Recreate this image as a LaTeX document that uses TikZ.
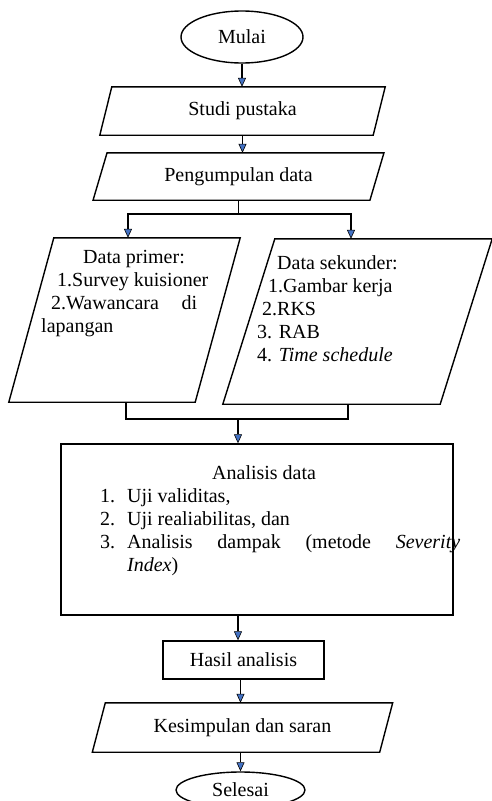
\documentclass[tikz,border=0pt]{standalone}
\usepackage{fontspec}
\setmainfont{Liberation Serif}
\usetikzlibrary{shapes.geometric,arrows.meta}
\definecolor{arrowblue}{RGB}{68,114,196}
\newcommand\drawpara[2]{\draw[boxline] ([xshift=#2]#1.north west) -- ([xshift=#2]#1.north east) -- ([xshift=-#2]#1.south east) -- ([xshift=-#2]#1.south west) -- cycle;}
\begin{document}
\begin{tikzpicture}[x=1pt,y=-1pt,
 txt/.style={font=\fontsize{20}{23}\selectfont, text=black},
 shapebox/.style={draw=none, rectangle, inner sep=0pt, txt},
 boxline/.style={line width=1.4pt, line join=miter},
 rectbox/.style={draw, line width=1.4pt, rectangle, inner sep=0pt, txt},
 term/.style={draw, ellipse, line width=1.4pt, inner sep=0pt, txt},
 ln/.style={line width=1.8pt},
 arr/.style={line width=1.8pt, -{Triangle[width=8pt,length=9pt,fill=arrowblue,line width=0.6pt]}},
 blocktxt/.style={txt, anchor=base west, inner sep=0pt},
]
\useasboundingbox (0,0) rectangle (492,801);
\fill[white] (0,0) rectangle (492,801);

% terminals and process boxes
\node[term, minimum width=122pt, minimum height=52pt] (mulai) at (242,37) {Mulai};
\node[shapebox, minimum width=273pt, minimum height=48pt] (studi) at (242.5,111) {Studi pustaka};
\drawpara{studi}{6pt}
\node[shapebox, minimum width=276.5pt, minimum height=47pt] (peng) at (238.5,176.5) {Pengumpulan data};
\drawpara{peng}{7pt}

\node[shapebox, minimum width=186pt, minimum height=164pt] (primer) at (124.5,320) {};
\drawpara{primer}{22.5pt}
\node[blocktxt] (primertxt) at (41,263) {\parbox[t]{200pt}{\raggedright
\hspace*{42pt}Data primer:\\
\hspace*{16pt}1.Survey kuisioner\\
\hspace*{10pt}\makebox[146pt][s]{2.Wawancara di}\\
lapangan}};

\node[shapebox, minimum width=217pt, minimum height=165pt] (sekunder) at (357.5,321.5) {};
\drawpara{sekunder}{26pt}
\node[blocktxt] (sekundertxt) at (257,269) {\parbox[t]{200pt}{\raggedright
\hspace*{20pt}Data sekunder:\\
\hspace*{11pt}1.Gambar kerja\\
\hspace*{5pt}2.RKS\\
3. RAB\\
4. \textit{Time schedule}}};

\node[rectbox, minimum width=392pt, minimum height=171pt] (analisis) at (257,529.5) {};
\node[blocktxt] (analisistxt) at (100,479) {\parbox[t]{370pt}{\raggedright
\hspace*{112pt}Analisis data\\
\makebox[27pt][l]{1.}Uji validitas,\\
\makebox[27pt][l]{2.}Uji realiabilitas, dan\\
\makebox[27pt][l]{3.}\makebox[333pt][s]{Analisis dampak (metode \textit{Severity}}\\
\hspace*{27pt}\textit{Index})}};

\node[rectbox, minimum width=161pt, minimum height=38pt] (hasil) at (243.5,660) {Hasil analisis};
\node[shapebox, minimum width=287pt, minimum height=49pt] (kesimpulan) at (242.5,727.5) {Kesimpulan dan saran};
\drawpara{kesimpulan}{6.5pt}
\node[term, minimum width=129pt, minimum height=36pt] (selesai) at (240.5,790) {Selesai};

% connectors
\draw[arr] (mulai.south) -- (mulai.south |- studi.north);
\draw[arr] (studi.south) -- (studi.south |- peng.north);

\coordinate (splitL) at (128,214);
\coordinate (splitR) at (351,214);
\draw[arr] (peng.south) |- (splitL) -- (splitL |- primer.north);
\draw[arr] (peng.south) |- (splitR) -- (splitR |- sekunder.north);

\coordinate (joinL) at (126,419);
\coordinate (joinR) at (348,419);
\coordinate (joinM) at (238,419);
\draw[ln] (joinL |- primer.south) -- (joinL) -- (joinR) -- (joinR |- sekunder.south);
\draw[arr] (joinM) -- (joinM |- analisis.north);
\draw[arr] (joinM |- analisis.south) -- (joinM |- hasil.north);
\draw[arr] (hasil.south -| selesai) -- (kesimpulan.north -| selesai);
\draw[arr] (kesimpulan.south -| selesai) -- (selesai.north);
\end{tikzpicture}
\end{document}
